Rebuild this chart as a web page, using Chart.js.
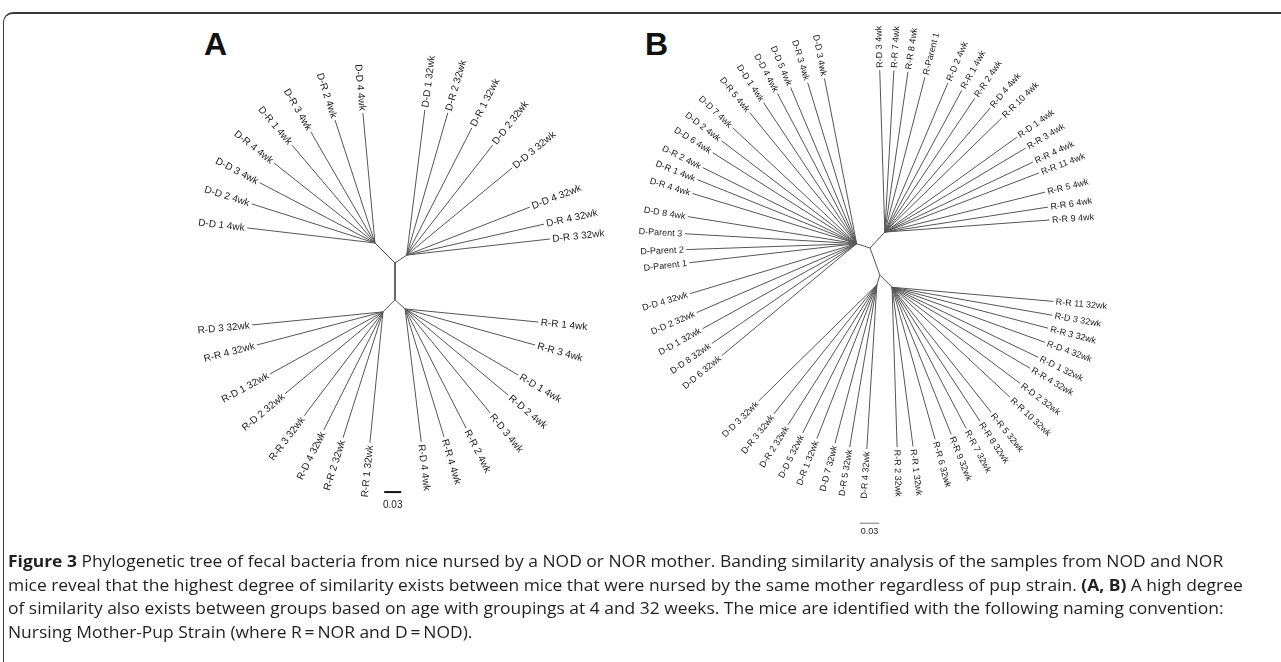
<!DOCTYPE html>
<html>
<head>
<meta charset="utf-8">
<script src="https://cdn.jsdelivr.net/npm/chart.js@4.4.0/dist/chart.umd.min.js"></script>
<style>
  html, body { margin: 0; padding: 0; background: #fff; }
  body { width: 1281px; height: 662px; position: relative; overflow: hidden; }
  .frame { position: absolute; left: 3px; top: 12px; width: 1400px; height: 800px;
           border-top: 2px solid #3a3a3a; border-left: 1.5px solid #3a3a3a; border-top-left-radius: 10px; }
  .panel { position: absolute; font-family: "Liberation Sans", Arial, sans-serif; font-weight: bold;
           font-size: 32px; line-height: 32px; color: #111; }
  canvas { position: absolute; }
  #caption { position: absolute; left: 8px; top: 550px; font-family: "Open Sans", sans-serif;
             font-size: 16px; line-height: 23.5px; color: #231f20; white-space: nowrap;
             transform-origin: 0 0; }
</style>
</head>
<body>
<div class="frame"></div>
<div class="panel" style="left:204px; top:28px;">A</div>
<div class="panel" style="left:645px; top:28px;">B</div>
<canvas id="treeA" width="490" height="510" style="left:150px; top:20px;"></canvas>
<canvas id="treeB" width="530" height="540" style="left:600px; top:20px;"></canvas>
<div id="caption">
  <div id="capLine1"><b>Figure 3</b> Phylogenetic tree of fecal bacteria from nice nursed by a NOD or NOR mother. Banding similarity analysis of the samples from NOD and NOR</div>
  <div>mice reveal that the highest degree of similarity exists between mice that were nursed by the same mother regardless of pup strain. <b>(A, B)</b> A high degree</div>
  <div>of similarity also exists between groups based on age with groupings at 4 and 32 weeks. The mice are identified with the following naming convention:</div>
  <div>Nursing Mother-Pup Strain (where R&#8201;=&#8201;NOR and D&#8201;=&#8201;NOD).</div>
</div>
<script>
// ---- Tree A : internal nodes (branch length in substitutions, direction in degrees)
const nodeParentA = [null, 0, 0, 0, 1, 1];
const nodeLenA = [0, 0.065, 0.050, 0.025, 0.030, 0.024];
const nodeAngleA = [0, -90, 135, 34, -135, -42];

// ---- Tree A : leaves
const leafLabelsA = [
    'D-D 1 4wk', 'D-D 2 4wk', 'D-D 3 4wk', 'D-R 4 4wk', 'D-R 1 4wk', 'D-R 3 4wk', 'D-R 2 4wk', 'D-D 4 4wk',
    'D-D 1 32wk', 'D-R 2 32wk', 'D-R 1 32wk', 'D-D 2 32wk', 'D-D 3 32wk', 'D-D 4 32wk', 'D-R 4 32wk', 'D-R 3 32wk',
    'R-D 3 32wk', 'R-R 4 32wk', 'R-D 1 32wk', 'R-D 2 32wk', 'R-R 3 32wk', 'R-D 4 32wk', 'R-R 2 32wk', 'R-R 1 32wk',
    'R-R 1 4wk', 'R-R 3 4wk', 'R-D 1 4wk', 'R-D 2 4wk', 'R-D 3 4wk', 'R-R 2 4wk', 'R-R 4 4wk', 'R-D 4 4wk'
];
const leafParentA = [
    2, 2, 2, 2, 2, 2, 2, 2,
    3, 3, 3, 3, 3, 3, 3, 3,
    4, 4, 4, 4, 4, 4, 4, 4,
    5, 5, 5, 5, 5, 5, 5, 5
];
const leafLenA = [
    0.227, 0.228, 0.229, 0.227, 0.226, 0.226, 0.228, 0.230,
    0.258, 0.261, 0.252, 0.246, 0.241, 0.233, 0.248, 0.254,
    0.232, 0.230, 0.227, 0.225, 0.230, 0.233, 0.233, 0.232,
    0.236, 0.238, 0.231, 0.237, 0.237, 0.236, 0.236, 0.236
];
const leafAngleA = [
    173.3, 162.4, 152.4, 141.6, 130.3, 120.0, 108.0, 95.3,
    82.9, 73.9, 62.9, 52.0, 39.6, 21.3, 12.7, 6.4,
    185.7, 194.7, 208.8, 219.9, 232.8, 243.4, 252.4, 264.3,
    -5.6, -15.5, -30.3, -39.9, -50.7, -62.9, -73.1, -83.1
];

// ---- Tree B : internal nodes
const nodeParentB = [null, 0, 0, 0, 3, 3];
const nodeLenB = [0, 0.022, 0.034, 0.045, 0.016, 0.027];
const nodeAngleB = [0, 162, 47, -70, -107, -45];

// ---- Tree B : leaves
const leafLabelsB = [
    'D-D 3 4wk', 'D-R 3 4wk', 'D-D 5 4wk', 'D-D 4 4wk', 'D-D 1 4wk', 'D-R 5 4wk', 'D-D 7 4wk',
    'D-D 2 4wk', 'D-D 6 4wk', 'D-R 2 4wk', 'D-R 1 4wk', 'D-R 4 4wk', 'D-D 8 4wk',
    'D-Parent 3', 'D-Parent 2', 'D-Parent 1',
    'D-D 4 32wk', 'D-D 2 32wk', 'D-D 1 32wk', 'D-D 8 32wk', 'D-D 6 32wk',
    'R-D 3 4wk', 'R-R 7 4wk', 'R-R 8 4wk', 'R-Parent 1', 'R-D 2 4wk', 'R-R 1 4wk', 'R-R 2 4wk', 'R-D 4 4wk',
    'R-R 10 4wk', 'R-D 1 4wk', 'R-R 3 4wk', 'R-R 4 4wk', 'R-R 11 4wk', 'R-R 5 4wk', 'R-R 6 4wk', 'R-R 9 4wk',
    'D-D 3 32wk', 'D-R 3 32wk', 'D-R 2 32wk', 'D-D 5 32wk', 'D-R 1 32wk', 'D-D 7 32wk', 'D-R 5 32wk', 'D-R 4 32wk',
    'R-R 2 32wk', 'R-R 1 32wk', 'R-R 6 32wk', 'R-R 9 32wk', 'R-R 7 32wk', 'R-R 8 32wk', 'R-R 5 32wk', 'R-R 10 32wk',
    'R-D 2 32wk', 'R-R 4 32wk', 'R-D 1 32wk', 'R-D 4 32wk', 'R-R 3 32wk', 'R-D 3 32wk', 'R-R 11 32wk'
];
const leafParentB = [
    1, 1, 1, 1, 1, 1, 1, 1, 1, 1, 1, 1, 1, 1, 1, 1, 1, 1, 1, 1, 1,
    2, 2, 2, 2, 2, 2, 2, 2, 2, 2, 2, 2, 2, 2, 2, 2,
    4, 4, 4, 4, 4, 4, 4, 4,
    5, 5, 5, 5, 5, 5, 5, 5, 5, 5, 5, 5, 5, 5, 5
];
const leafLenB = [
    0.263, 0.263, 0.265, 0.265, 0.264, 0.264, 0.265, 0.265, 0.266, 0.268, 0.268, 0.268, 0.267,
    0.269, 0.266, 0.263,
    0.272, 0.272, 0.275, 0.275, 0.274,
    0.253, 0.253, 0.253, 0.250, 0.253, 0.252, 0.252, 0.254,
    0.255, 0.254, 0.256, 0.256, 0.258, 0.258, 0.258, 0.258,
    0.259, 0.258, 0.259, 0.259, 0.258, 0.256, 0.257, 0.257,
    0.250, 0.251, 0.247, 0.248, 0.249, 0.250, 0.249, 0.252,
    0.250, 0.250, 0.253, 0.254, 0.252, 0.254, 0.253
];
const leafAngleB = [
    101.0, 106.9, 112.9, 117.8, 123.4, 129.2, 136.9, 142.7, 147.7, 153.7, 158.1, 163.0, 170.9,
    176.7, 182.0, 186.5,
    196.7, 203.3, 208.9, 214.6, 219.7,
    91.8, 86.8, 81.8, 75.5, 67.1, 61.5, 56.1, 49.7,
    44.3, 35.7, 30.8, 25.3, 21.0, 14.0, 8.7, 4.2,
    224.5, 231.4, 237.6, 243.4, 248.7, 255.2, 260.5, 266.5,
    -88.2, -82.5, -74.2, -68.1, -62.3, -56.7, -51.6, -43.0,
    -36.9, -30.4, -25.6, -19.8, -14.7, -9.9, -5.0
];

const scaleBarLength = 0.03;
const scaleBarText = '0.03';

function layoutTree(nodeParent, nodeLen, nodeAngle, leafParent, leafLen, leafAngle) {
    const nodes = [];
    nodeParent.forEach((p, i) => {
        if (p === null) { nodes[i] = { x: 0, y: 0 }; return; }
        const a = nodeAngle[i] * Math.PI / 180;
        nodes[i] = { x: nodes[p].x + nodeLen[i] * Math.cos(a), y: nodes[p].y + nodeLen[i] * Math.sin(a) };
    });
    const tips = leafParent.map((p, i) => {
        const a = leafAngle[i] * Math.PI / 180;
        return { x: nodes[p].x + leafLen[i] * Math.cos(a), y: nodes[p].y + leafLen[i] * Math.sin(a) };
    });
    // branch segments, separated by gaps
    const pts = [];
    nodeParent.forEach((p, i) => {
        if (p === null) return;
        pts.push(nodes[p], nodes[i], { x: nodes[i].x, y: null });
    });
    leafParent.forEach((p, i) => {
        pts.push(nodes[p], tips[i], { x: tips[i].x, y: null });
    });
    return { nodes, tips, pts };
}

function drawTree(canvasId, tree, labels, leafParent, cfg) {
    const canvas = document.getElementById(canvasId);
    const k = cfg.pxPerUnit;
    const W = canvas.width, H = canvas.height;

    const labelPlugin = {
        id: 'leafLabels',
        afterDatasetsDraw(chart) {
            const c = chart.ctx;
            const xs = chart.scales.x, ys = chart.scales.y;
            c.save();
            c.fillStyle = '#1a1a1a';
            c.font = cfg.font;
            c.textBaseline = 'middle';
            labels.forEach((lab, i) => {
                const p = tree.nodes[leafParent[i]], t = tree.tips[i];
                const px = xs.getPixelForValue(p.x), py = ys.getPixelForValue(p.y);
                const tx = xs.getPixelForValue(t.x), ty = ys.getPixelForValue(t.y);
                const th = Math.atan2(ty - py, tx - px);
                const gx = tx + 2.5 * Math.cos(th), gy = ty + 2.5 * Math.sin(th);
                c.save();
                c.translate(gx, gy);
                if (Math.cos(th) >= -0.05) {
                    c.rotate(th);
                    c.textAlign = 'left';
                } else {
                    c.rotate(th + Math.PI);
                    c.textAlign = 'right';
                }
                c.fillText(lab, 0, 0.5);
                c.restore();
            });
            // scale bar text
            const bx = xs.getPixelForValue(cfg.barX + scaleBarLength / 2);
            const by = ys.getPixelForValue(cfg.barY);
            c.textAlign = 'center';
            c.textBaseline = 'top';
            c.font = cfg.barFont;
            c.fillText(scaleBarText, bx, by + cfg.barGap);
            c.restore();
        }
    };

    return new Chart(canvas.getContext('2d'), {
        type: 'scatter',
        data: {
            datasets: [
                {
                    data: tree.pts,
                    showLine: true,
                    spanGaps: false,
                    borderColor: cfg.lineColor,
                    borderWidth: 1,
                    pointRadius: 0
                },
                {
                    data: [{ x: cfg.barX, y: cfg.barY }, { x: cfg.barX + scaleBarLength, y: cfg.barY }],
                    showLine: true,
                    borderColor: cfg.barColor,
                    borderWidth: cfg.barWidth,
                    pointRadius: 0
                }
            ]
        },
        options: {
            responsive: false,
            animation: false,
            events: [],
            layout: { padding: 0 },
            plugins: { legend: { display: false }, tooltip: { enabled: false } },
            scales: {
                x: { type: 'linear', display: false, min: -cfg.rootX / k, max: (W - cfg.rootX) / k },
                y: { type: 'linear', display: false, min: -(H - cfg.rootY) / k, max: cfg.rootY / k }
            }
        },
        plugins: [labelPlugin]
    });
}

const treeA = layoutTree(nodeParentA, nodeLenA, nodeAngleA, leafParentA, leafLenA, leafAngleA);
const treeB = layoutTree(nodeParentB, nodeLenB, nodeAngleB, leafParentB, leafLenB, leafAngleB);

drawTree('treeA', treeA, leafLabelsA, leafParentA, {
    pxPerUnit: 567, rootX: 245, rootY: 243,
    font: '10px "Liberation Sans", Arial, sans-serif',
    lineColor: '#555', barColor: '#111', barWidth: 2,
    barX: -0.019, barY: -0.404, barGap: 8,
    barFont: '10px "Liberation Sans", Arial, sans-serif'
});
drawTree('treeB', treeB, leafLabelsB, leafParentB, {
    pxPerUnit: 640, rootX: 270, rootY: 228,
    font: '9px "Liberation Sans", Arial, sans-serif',
    lineColor: '#555', barColor: '#777', barWidth: 1,
    barX: -0.0156, barY: -0.430, barGap: 4,
    barFont: '9px "Liberation Sans", Arial, sans-serif'
});

// the original caption font is condensed: squeeze the lines to the original length
const cap = document.getElementById('caption');
const w1 = document.getElementById('capLine1').scrollWidth;
cap.style.transform = 'scaleX(' + (1235 / w1).toFixed(4) + ')';
</script>
</body>
</html>
